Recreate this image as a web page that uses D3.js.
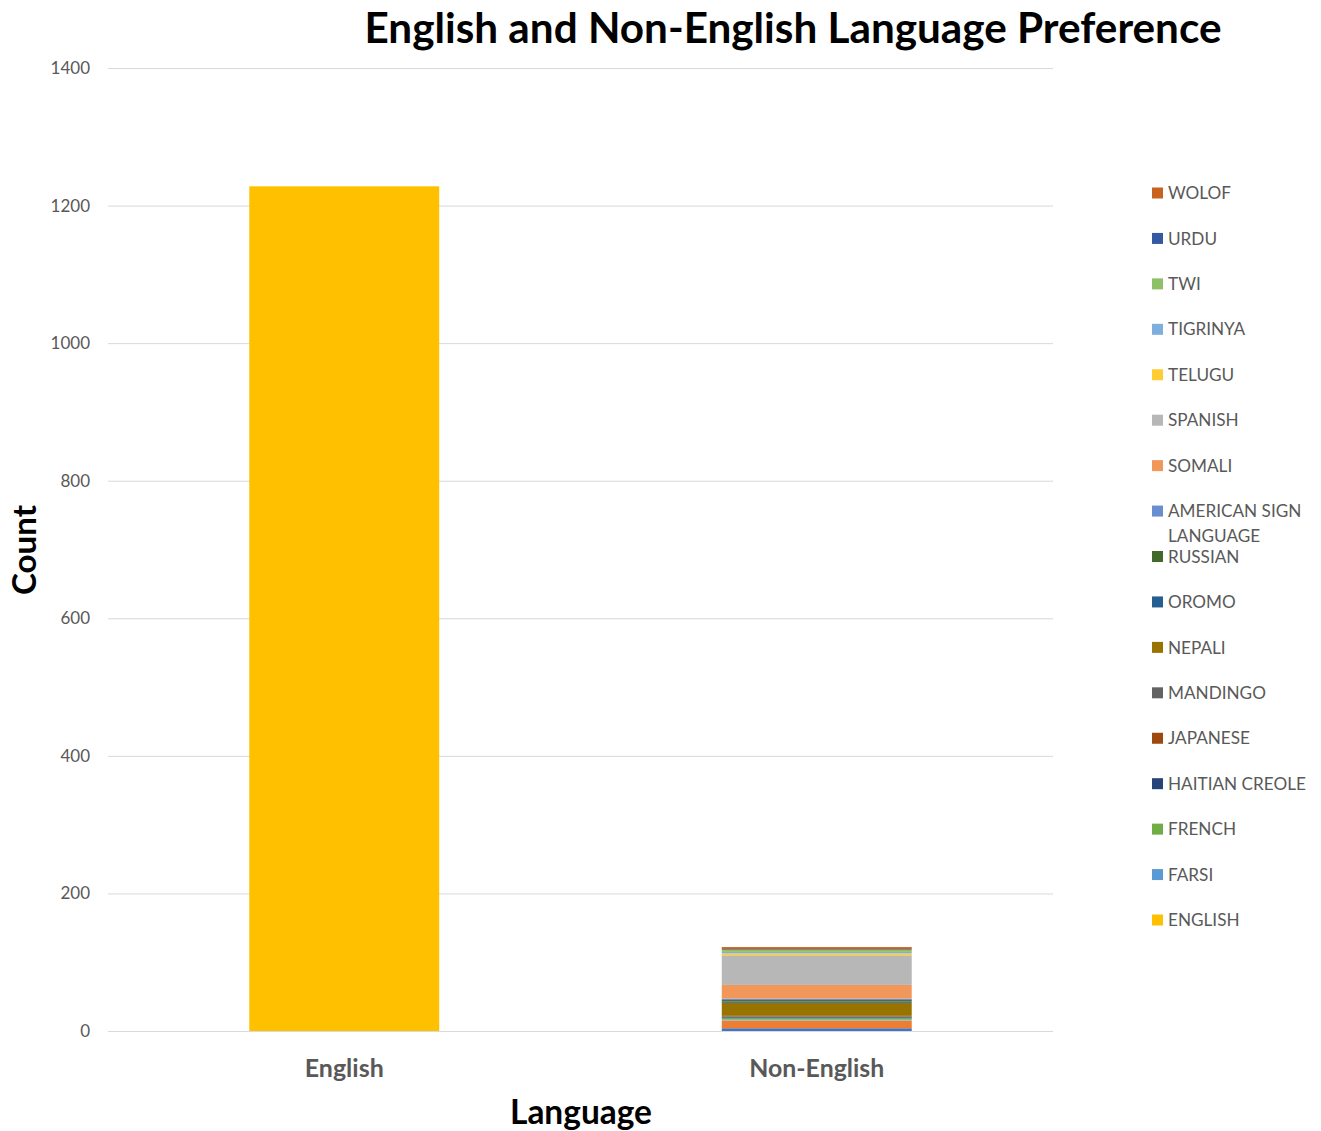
<!DOCTYPE html>
<html>
<head>
<meta charset="utf-8">
<script src="https://cdn.jsdelivr.net/npm/d3@7"></script>
<style>
  html, body { margin: 0; padding: 0; background: #fff; }
  svg { display: block; }
  text { font-family: Lato, "Open Sans", sans-serif; }
</style>
</head>
<body>
<svg id="chart" width="1321" height="1131"></svg>
<script>
// Categories on the x axis
const categories = ["English", "Non-English"];

// Stacked series, bottom to top. Series with a null label are drawn but not listed.
const seriesLabels = [null, null, null, "ENGLISH", "FARSI", "FRENCH", "HAITIAN CREOLE", "JAPANESE",
  "MANDINGO", "NEPALI", "OROMO", "RUSSIAN", "AMERICAN SIGN LANGUAGE", "SOMALI", "SPANISH",
  "TELUGU", "TIGRINYA", "TWI", "URDU", "WOLOF"];
const englishValues    = [0, 0, 0, 1228, 0, 0, 0, 0, 0, 0, 0, 0, 0, 0, 0, 0, 0, 0, 0, 0];
const nonEnglishValues = [4, 11, 1, 0, 1, 2, 1, 1, 1, 19, 2, 2, 2, 20, 43, 3, 2, 3, 1, 3];
const seriesColors = ["#4472C4", "#ED7D31", "#A5A5A5", "#FFC000", "#5B9BD5", "#70AD47", "#264478",
  "#9E480E", "#636363", "#997300", "#255E91", "#43682B", "#698ED0", "#F1975A", "#B7B7B7",
  "#FFCD33", "#7CAFDD", "#8CC168", "#335AA1", "#C9621C"];

// Y axis ticks
const yTicks = [0, 200, 400, 600, 800, 1000, 1200, 1400];

const titleText = "English and Non-English Language Preference";
const xTitle = "Language";
const yTitle = "Count";

// ---- layout ----
const svg = d3.select("#chart");
const plot = { left: 108, right: 1053, top: 68, bottom: 1031 };
const textGray = "#595959";

const x = d3.scaleBand()
  .domain(categories)
  .range([plot.left, plot.right])
  .paddingInner(0.598)
  .paddingOuter(0.299);

const y = d3.scaleLinear()
  .domain([0, 1400])
  .range([plot.bottom, plot.top]);

// Shrink or grow a text element's font size so its width becomes `w`.
function fitWidth(sel, w) {
  const node = sel.node();
  const fs = parseFloat(sel.attr("font-size"));
  const cur = node.getComputedTextLength();
  sel.attr("font-size", (fs * w / cur).toFixed(2));
  return sel;
}

// Gridlines and tick labels
const yAxis = d3.axisLeft(y)
  .tickValues(yTicks)
  .tickFormat(d3.format("d"))
  .tickSize(-(plot.right - plot.left))
  .tickPadding(18);
const gy = svg.append("g").attr("transform", `translate(${plot.left},0)`).call(yAxis);
gy.select(".domain").remove();
gy.selectAll(".tick line").attr("stroke", "#d9d9d9").attr("stroke-width", 1);
gy.selectAll(".tick text")
  .attr("fill", textGray)
  .attr("font-size", 17)
  .attr("font-family", "Lato, sans-serif");

// Stacked data
const rows = categories.map((c, i) => {
  const row = { category: c };
  const vals = i === 0 ? englishValues : nonEnglishValues;
  seriesLabels.forEach((s, j) => { row["s" + j] = vals[j]; });
  return row;
});
const keys = seriesLabels.map((s, j) => "s" + j);
const stacked = d3.stack().keys(keys)(rows);

svg.append("g")
  .selectAll("g")
  .data(stacked)
  .join("g")
  .attr("fill", (d, i) => seriesColors[i])
  .selectAll("rect")
  .data(d => d)
  .join("rect")
  .attr("x", d => x(d.data.category))
  .attr("width", x.bandwidth())
  .attr("y", d => y(d[1]))
  .attr("height", d => Math.max(0, y(d[0]) - y(d[1])));

// Category labels
const catLabelWidths = { "English": 79, "Non-English": 135 };
categories.forEach(c => {
  const t = svg.append("text")
    .attr("x", x(c) + x.bandwidth() / 2)
    .attr("y", 1077)
    .attr("text-anchor", "middle")
    .attr("font-weight", "bold")
    .attr("font-size", 22)
    .attr("fill", textGray)
    .text(c);
  fitWidth(t, catLabelWidths[c]);
});

// Title
fitWidth(svg.append("text")
  .attr("x", 793)
  .attr("y", 43)
  .attr("text-anchor", "middle")
  .attr("font-weight", "bold")
  .attr("font-size", 34)
  .attr("fill", "#000")
  .text(titleText), 857);

// Axis titles
fitWidth(svg.append("text")
  .attr("x", 581)
  .attr("y", 1124)
  .attr("text-anchor", "middle")
  .attr("font-weight", "bold")
  .attr("font-size", 30)
  .attr("fill", "#000")
  .text(xTitle), 142);

fitWidth(svg.append("text")
  .attr("transform", "translate(36,550) rotate(-90)")
  .attr("text-anchor", "middle")
  .attr("font-weight", "bold")
  .attr("font-size", 30)
  .attr("fill", "#000")
  .text(yTitle), 90);

// Legend: listed top to bottom in reverse stack order
const legendItems = seriesLabels
  .map((s, i) => ({ label: s, color: seriesColors[i] }))
  .filter(d => d.label !== null)
  .reverse();

const legendY = d3.scalePoint()
  .domain(legendItems.map(d => d.label))
  .range([193, 920]);

const legend = svg.append("g");
let legendFont = 17;
{
  // size the legend font from the widest single-line entry
  const probe = legend.append("text").attr("font-size", 17).text("HAITIAN CREOLE");
  legendFont = 17 * 138 / probe.node().getComputedTextLength();
  probe.remove();
}
legendItems.forEach(d => {
  const cy = legendY(d.label);
  legend.append("rect")
    .attr("x", 1152).attr("y", cy - 5.5)
    .attr("width", 11).attr("height", 11)
    .attr("fill", d.color);
  const words = d.label === "AMERICAN SIGN LANGUAGE" ? ["AMERICAN SIGN", "LANGUAGE"] : [d.label];
  const t = legend.append("text")
    .attr("x", 1168)
    .attr("y", cy)
    .attr("font-size", legendFont.toFixed(2))
    .attr("fill", textGray);
  words.forEach((w, k) => {
    t.append("tspan").attr("x", 1168).attr("dy", k === 0 ? "0.36em" : "1.45em").text(w);
  });
});
</script>
</body>
</html>
